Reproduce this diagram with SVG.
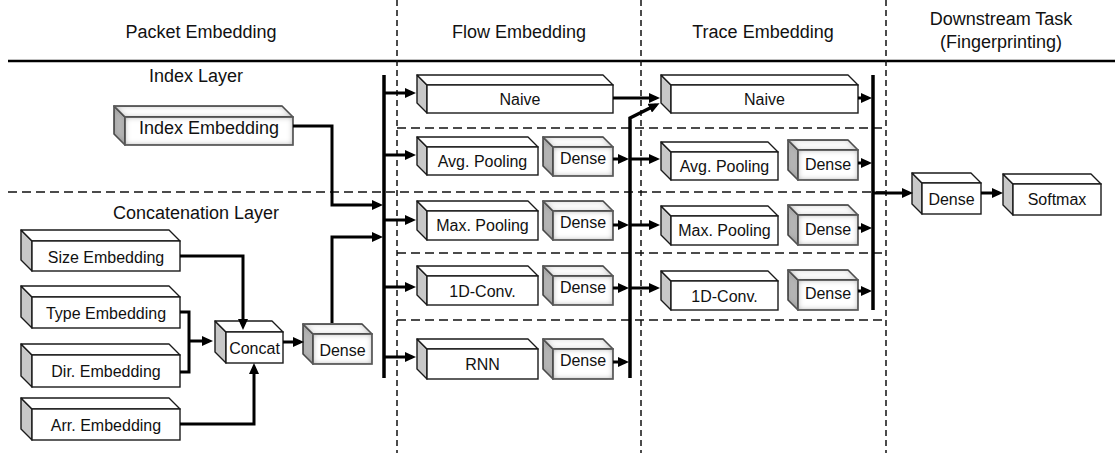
<svg xmlns="http://www.w3.org/2000/svg" width="1115" height="453" viewBox="0 0 1115 453">
<style>
.bg{fill:#fff}
.side{fill:#c8c8c8;stroke:#1a1a1a;stroke-width:1.4;stroke-linejoin:round}
.top{fill:#fff;stroke:#1a1a1a;stroke-width:1.4;stroke-linejoin:round}
.front{fill:#fff;stroke:#1a1a1a;stroke-width:1.4}
.sh{filter:url(#inset)}
.sside{fill:#b8b8b8;stroke:#1a1a1a;stroke-width:1.4;stroke-linejoin:round}
.lbl{font-family:"Liberation Sans",Arial,sans-serif;font-size:16px;text-anchor:middle;fill:#111}
.big{font-family:"Liberation Sans",Arial,sans-serif;font-size:18px;text-anchor:middle;fill:#111}
.hdr{font-family:"Liberation Sans",Arial,sans-serif;font-size:18px;text-anchor:middle;fill:#111}
.dash{stroke:#111;stroke-width:1.5;fill:none}
.v{stroke-dasharray:6,4}
.h{stroke-dasharray:9,5}
.c{stroke:#000;stroke-width:3;fill:none}
.ca{stroke:#000;stroke-width:3;fill:none;marker-end:url(#arr)}
.bus{stroke:#000;stroke-width:3.5;fill:none}
</style>
<defs>
<marker id="arr" markerUnits="userSpaceOnUse" markerWidth="11" markerHeight="10" refX="7" refY="5" orient="auto">
<path d="M0,0 L11,5 L0,10 z" fill="#000"/>
</marker>
<filter id="inset" x="-20%" y="-30%" width="140%" height="160%">
<feFlood flood-color="#707070" result="f"/>
<feComposite in="f" in2="SourceAlpha" operator="out" result="o"/>
<feGaussianBlur in="o" stdDeviation="3" result="b"/>
<feComposite in="b" in2="SourceAlpha" operator="in" result="s"/>
<feMerge><feMergeNode in="SourceGraphic"/><feMergeNode in="s"/></feMerge>
</filter>
</defs>
<rect class="bg" x="0" y="0" width="1115" height="453"/>

<g id="headers">
<text class="hdr" x="201" y="38">Packet Embedding</text>
<text class="hdr" x="519" y="38">Flow Embedding</text>
<text class="hdr" x="763" y="38">Trace Embedding</text>
<text class="hdr" x="1001" y="25">Downstream Task</text>
<text class="hdr" x="1001" y="48">(Fingerprinting)</text>
<line x1="8" y1="61" x2="1115" y2="61" stroke="#000" stroke-width="2.5"/>
</g>

<g id="separators">
<line class="dash v" x1="397" y1="0" x2="397" y2="453"/>
<line class="dash v" x1="641" y1="0" x2="641" y2="453"/>
<line class="dash v" x1="886" y1="0" x2="886" y2="453"/>
<line class="dash h" x1="8" y1="192" x2="886" y2="192"/>
<line class="dash h" x1="397" y1="128" x2="886" y2="128"/>
<line class="dash h" x1="397" y1="253" x2="886" y2="253"/>
<line class="dash h" x1="397" y1="320" x2="886" y2="320"/>
</g>

<g id="layer-labels">
<text class="big" x="196" y="82">Index Layer</text>
<text class="big" x="196" y="219">Concatenation Layer</text>
</g>

<g id="index-embedding">
<path class="sside sh" d="M125,117 l-11,-11 v28 l11,11 z"/>
<path class="top sh" d="M125,117 l-11,-11 h168 l11,11 z"/>
<rect class="front sh" x="125" y="117" width="168" height="28"/>
<text class="big" x="209" y="134">Index Embedding</text>
</g>

<g id="size-embedding">
<path class="side" d="M32,241 l-11,-11 v30 l11,11 z"/>
<path class="top" d="M32,241 l-11,-11 h148 l11,11 z"/>
<rect class="front" x="32" y="241" width="148" height="30"/>
<text class="lbl" x="106" y="263">Size Embedding</text>
</g>

<g id="type-embedding">
<path class="side" d="M32,297 l-11,-11 v31 l11,11 z"/>
<path class="top" d="M32,297 l-11,-11 h148 l11,11 z"/>
<rect class="front" x="32" y="297" width="148" height="31"/>
<text class="lbl" x="106" y="319">Type Embedding</text>
</g>

<g id="dir-embedding">
<path class="side" d="M32,355 l-11,-11 v32 l11,11 z"/>
<path class="top" d="M32,355 l-11,-11 h148 l11,11 z"/>
<rect class="front" x="32" y="355" width="148" height="32"/>
<text class="lbl" x="106" y="377">Dir. Embedding</text>
</g>

<g id="arr-embedding">
<path class="side" d="M32,409 l-11,-11 v31 l11,11 z"/>
<path class="top" d="M32,409 l-11,-11 h148 l11,11 z"/>
<rect class="front" x="32" y="409" width="148" height="31"/>
<text class="lbl" x="106" y="431">Arr. Embedding</text>
</g>

<g id="concat">
<path class="side" d="M226,332 l-11,-11 v31 l11,11 z"/>
<path class="top" d="M226,332 l-11,-11 h57 l11,11 z"/>
<rect class="front" x="226" y="332" width="57" height="31"/>
<text class="lbl" x="254.5" y="354">Concat</text>
</g>

<g id="packet-dense">
<path class="sside sh" d="M313,334 l-10,-10 v30 l10,10 z"/>
<path class="top sh" d="M313,334 l-10,-10 h59 l10,10 z"/>
<rect class="front sh" x="313" y="334" width="59" height="30"/>
<text class="lbl" x="342.5" y="356">Dense</text>
</g>

<g id="flow-naive">
<path class="side" d="M427,85 l-10,-10 v28 l10,10 z"/>
<path class="top" d="M427,85 l-10,-10 h186 l10,10 z"/>
<rect class="front" x="427" y="85" width="186" height="28"/>
<text class="lbl" x="520" y="105">Naive</text>
</g>

<g id="flow-avg-pooling">
<path class="side" d="M427,147 l-10,-10 v28 l10,10 z"/>
<path class="top" d="M427,147 l-10,-10 h111 l10,10 z"/>
<rect class="front" x="427" y="147" width="111" height="28"/>
<text class="lbl" x="482.5" y="167">Avg. Pooling</text>
</g>
<g id="flow-avg-dense">
<path class="sside sh" d="M553,147 l-10,-10 v29 l10,10 z"/>
<path class="top sh" d="M553,147 l-10,-10 h60 l10,10 z"/>
<rect class="front sh" x="553" y="147" width="60" height="29"/>
<text class="lbl" x="583" y="164">Dense</text>
</g>

<g id="flow-max-pooling">
<path class="side" d="M427,211 l-10,-10 v29 l10,10 z"/>
<path class="top" d="M427,211 l-10,-10 h111 l10,10 z"/>
<rect class="front" x="427" y="211" width="111" height="29"/>
<text class="lbl" x="482.5" y="231">Max. Pooling</text>
</g>
<g id="flow-max-dense">
<path class="sside sh" d="M553,211 l-10,-10 v29 l10,10 z"/>
<path class="top sh" d="M553,211 l-10,-10 h60 l10,10 z"/>
<rect class="front sh" x="553" y="211" width="60" height="29"/>
<text class="lbl" x="583" y="228">Dense</text>
</g>

<g id="flow-1d-conv">
<path class="side" d="M427,276 l-10,-10 v29 l10,10 z"/>
<path class="top" d="M427,276 l-10,-10 h111 l10,10 z"/>
<rect class="front" x="427" y="276" width="111" height="29"/>
<text class="lbl" x="482.5" y="297">1D-Conv.</text>
</g>
<g id="flow-conv-dense">
<path class="sside sh" d="M553,276 l-10,-10 v29 l10,10 z"/>
<path class="top sh" d="M553,276 l-10,-10 h60 l10,10 z"/>
<rect class="front sh" x="553" y="276" width="60" height="29"/>
<text class="lbl" x="583" y="293">Dense</text>
</g>

<g id="flow-rnn">
<path class="side" d="M427,349 l-10,-10 v30 l10,10 z"/>
<path class="top" d="M427,349 l-10,-10 h111 l10,10 z"/>
<rect class="front" x="427" y="349" width="111" height="30"/>
<text class="lbl" x="482.5" y="370">RNN</text>
</g>
<g id="flow-rnn-dense">
<path class="sside sh" d="M553,349 l-10,-10 v30 l10,10 z"/>
<path class="top sh" d="M553,349 l-10,-10 h60 l10,10 z"/>
<rect class="front sh" x="553" y="349" width="60" height="30"/>
<text class="lbl" x="583" y="366">Dense</text>
</g>

<g id="trace-naive">
<path class="side" d="M671,85 l-10,-10 v28 l10,10 z"/>
<path class="top" d="M671,85 l-10,-10 h187 l10,10 z"/>
<rect class="front" x="671" y="85" width="187" height="28"/>
<text class="lbl" x="764.5" y="105">Naive</text>
</g>

<g id="trace-avg-pooling">
<path class="side" d="M671,152 l-10,-10 v28 l10,10 z"/>
<path class="top" d="M671,152 l-10,-10 h107 l10,10 z"/>
<rect class="front" x="671" y="152" width="107" height="28"/>
<text class="lbl" x="724.5" y="172">Avg. Pooling</text>
</g>
<g id="trace-avg-dense">
<path class="sside sh" d="M798,150 l-10,-10 v30 l10,10 z"/>
<path class="top sh" d="M798,150 l-10,-10 h60 l10,10 z"/>
<rect class="front sh" x="798" y="150" width="60" height="30"/>
<text class="lbl" x="828" y="170">Dense</text>
</g>

<g id="trace-max-pooling">
<path class="side" d="M671,216 l-10,-10 v29 l10,10 z"/>
<path class="top" d="M671,216 l-10,-10 h107 l10,10 z"/>
<rect class="front" x="671" y="216" width="107" height="29"/>
<text class="lbl" x="724.5" y="236">Max. Pooling</text>
</g>
<g id="trace-max-dense">
<path class="sside sh" d="M798,215 l-10,-10 v30 l10,10 z"/>
<path class="top sh" d="M798,215 l-10,-10 h60 l10,10 z"/>
<rect class="front sh" x="798" y="215" width="60" height="30"/>
<text class="lbl" x="828" y="235">Dense</text>
</g>

<g id="trace-1d-conv">
<path class="side" d="M671,281 l-10,-10 v29 l10,10 z"/>
<path class="top" d="M671,281 l-10,-10 h107 l10,10 z"/>
<rect class="front" x="671" y="281" width="107" height="29"/>
<text class="lbl" x="724.5" y="302">1D-Conv.</text>
</g>
<g id="trace-conv-dense">
<path class="sside sh" d="M798,280 l-10,-10 v30 l10,10 z"/>
<path class="top sh" d="M798,280 l-10,-10 h60 l10,10 z"/>
<rect class="front sh" x="798" y="280" width="60" height="30"/>
<text class="lbl" x="828" y="299">Dense</text>
</g>

<g id="task-dense">
<path class="side" d="M922,183 l-10,-10 v31 l10,10 z"/>
<path class="top" d="M922,183 l-10,-10 h59 l10,10 z"/>
<rect class="front" x="922" y="183" width="59" height="31"/>
<text class="lbl" x="951.5" y="205">Dense</text>
</g>

<g id="task-softmax">
<path class="side" d="M1013,184 l-10,-10 v31 l10,10 z"/>
<path class="top" d="M1013,184 l-10,-10 h88 l10,10 z"/>
<rect class="front" x="1013" y="184" width="88" height="31"/>
<text class="lbl" x="1057" y="205">Softmax</text>
</g>

<g id="connectors">
<path class="ca" d="M293,126 H332 V205 H379"/>
<path class="ca" d="M332,323 V237 H379"/>
<path class="ca" d="M180,256 H243 V326"/>
<path class="c" d="M180,312 H189 V372 H180"/>
<path class="ca" d="M189,341 H209" stroke-width="4"/>
<path class="ca" d="M180,424 H254 V367"/>
<path class="ca" d="M283,342 H300"/>
<path class="bus" d="M384,75 V378"/>
<path class="ca" d="M384,93 H412"/>
<path class="ca" d="M384,155 H412"/>
<path class="ca" d="M384,220 H412"/>
<path class="ca" d="M384,287 H412"/>
<path class="ca" d="M384,357 H412"/>
<path class="ca" d="M613,98 H656"/>
<path class="ca" d="M613,159 H625"/>
<path class="ca" d="M613,225 H625"/>
<path class="ca" d="M613,288 H625"/>
<path class="ca" d="M613,362 H625"/>
<path class="bus" d="M630,378 V118 L656,105" marker-end="url(#arr)"/>
<path class="ca" d="M630,159 H656"/>
<path class="ca" d="M630,225 H656"/>
<path class="ca" d="M630,288 H656"/>
<path class="ca" d="M858,98 H868"/>
<path class="ca" d="M858,163 H868"/>
<path class="ca" d="M858,228 H868"/>
<path class="ca" d="M858,291 H868"/>
<path class="bus" d="M873,75 V310"/>
<path class="ca" d="M873,193 H909"/>
<path class="ca" d="M981,193 H999"/>
</g>
</svg>
